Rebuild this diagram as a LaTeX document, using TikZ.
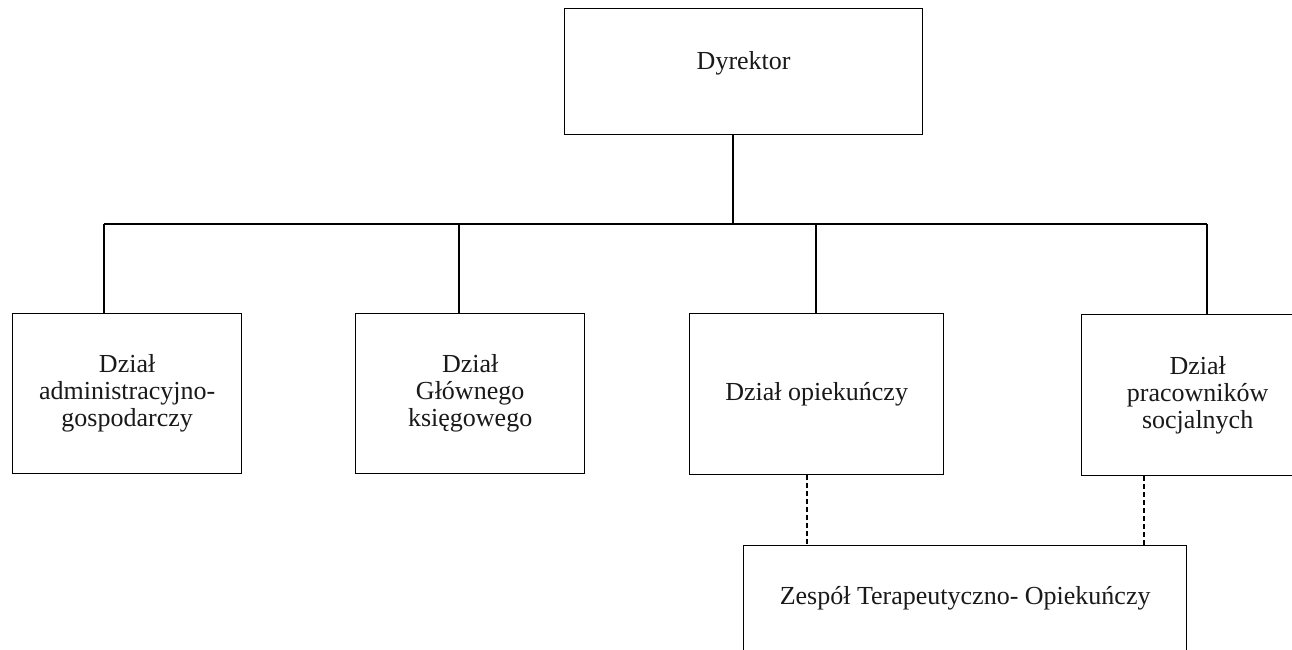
\documentclass[tikz,border=0pt]{standalone}
\usepackage{fontspec}
\setmainfont{Liberation Serif}
\begin{document}
\begin{tikzpicture}[x=1pt,y=-1pt,
  box/.style={draw=black,line width=1.3pt,anchor=north west,inner sep=0pt,
    align=center,font=\fontsize{26}{27}\selectfont,text=black!90},
  link/.style={draw=black,line width=1.2pt},
  dlink/.style={draw=black,line width=1.2pt,dash pattern=on 5pt off 3pt}]
\useasboundingbox (0,0) rectangle (1292,650);
\clip (0,0) rectangle (1292,650);
\fill[white] (0,0) rectangle (1292,650);
% boxes
\node[box,minimum width=358pt,minimum height=126pt,text depth=22pt] (dyr) at (564,8) {Dyrektor};
\node[box,minimum width=229pt,minimum height=160pt] (b1) at (12,313) {Dział\\administracyjno-\\gospodarczy};
\node[box,minimum width=229pt,minimum height=160pt] (b2) at (355,313) {Dział\\Głównego\\księgowego};
\node[box,minimum width=254pt,minimum height=161pt] (b3) at (689,313) {Dział opiekuńczy};
\node[box,minimum width=232pt,minimum height=161pt] (b4) at (1081,314) {Dział\\pracowników\\socjalnych};
\node[box,minimum width=443pt,minimum height=106pt] (zesp) at (743,545) {Zespół Terapeutyczno- Opiekuńczy};
% junction points
\coordinate (jD) at (733,224);
\coordinate (jL) at (104,224);
\coordinate (j2) at (459,224);
\coordinate (j3) at (816,224);
\coordinate (jR) at (1207,224);
\coordinate (k3) at (807,545);
\coordinate (k4) at (1144,545);
% connectors
\draw[link] (jD |- dyr.south) -- (jD);
\draw[link] (jL) -- (jR);
\draw[link] (jL) -- (jL |- b1.north);
\draw[link] (j2) -- (j2 |- b2.north);
\draw[link] (j3) -- (j3 |- b3.north);
\draw[link] (jR) -- (jR |- b4.north);
\draw[dlink] (k3 |- b3.south) -- (k3 |- zesp.north);
\draw[dlink] (k4 |- b4.south) -- (k4 |- zesp.north);
\end{tikzpicture}
\end{document}
